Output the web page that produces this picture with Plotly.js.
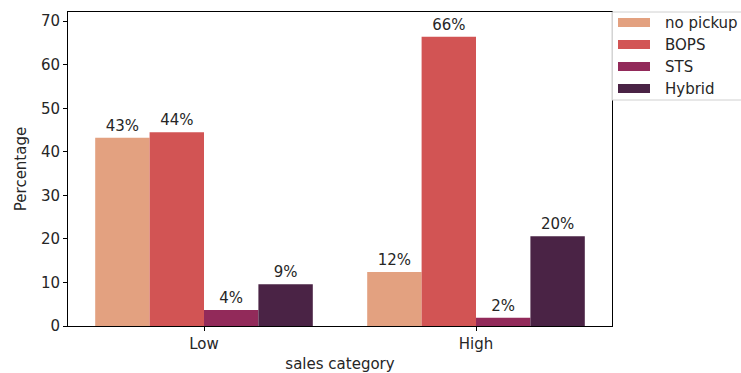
<!DOCTYPE html>
<html>
<head>
<meta charset="utf-8">
<script src="https://cdn.plot.ly/plotly-3.0.1.min.js"></script>
<style>html,body{margin:0;padding:0;background:#fff;}#chart{width:741px;height:373px;}</style>
</head>
<body>
<div id="chart"></div>
<script>
const categories = ["Low", "High"];
const seriesNames = ["no pickup", "BOPS", "STS", "Hybrid"];
const noPickup = [43.2, 12.4];
const bops = [44.5, 66.4];
const sts = [3.7, 1.9];
const hybrid = [9.6, 20.6];
const noPickupLabels = ["43%", "12%"];
const bopsLabels = ["44%", "66%"];
const stsLabels = ["4%", "2%"];
const hybridLabels = ["9%", "20%"];
const yTicks = [0, 10, 20, 30, 40, 50, 60, 70];
const colors = ["#e3a180", "#d25454", "#922a5a", "#4a2345"];

const values = [noPickup, bops, sts, hybrid];
const labels = [noPickupLabels, bopsLabels, stsLabels, hybridLabels];
const textColor = "#262626";
const fontFam = "DejaVu Sans, sans-serif";
const fs = 15;

const traces = seriesNames.map((n, i) => ({
  type: "bar",
  name: n,
  x: categories,
  y: values[i],
  text: labels[i],
  textposition: "outside",
  textfont: {family: fontFam, size: fs, color: textColor},
  cliponaxis: false,
  marker: {color: colors[i], line: {width: 0}},
  hoverinfo: "skip",
  showlegend: false
}));

// plot area in pixels: left 68, right 612, top 12, bottom 326
const L = 68, R = 612, T = 12, B = 326;
const px = v => (v - L) / (R - L);
const py = v => (B - v) / (B - T);

const shapes = [{
  type: "rect", xref: "paper", yref: "paper",
  x0: px(612), x1: px(760), y0: py(100), y1: py(12),
  line: {color: "#d0d0d0", width: 1}, fillcolor: "rgba(255,255,255,0.85)", layer: "above"
}];
const annotations = [];
seriesNames.forEach((n, i) => {
  const cy = 22.5 + i * 22;
  shapes.push({
    type: "rect", xref: "paper", yref: "paper",
    x0: px(618), x1: px(650), y0: py(cy + 4.5), y1: py(cy - 4.5),
    line: {width: 0}, fillcolor: colors[i], layer: "above"
  });
  annotations.push({
    xref: "paper", yref: "paper", x: px(663), y: py(cy),
    xanchor: "left", yanchor: "middle", showarrow: false,
    text: n, font: {family: fontFam, size: fs, color: textColor}
  });
});

const layout = {
  width: 741, height: 373,
  margin: {l: L, r: 741 - R, t: T, b: 373 - B},
  paper_bgcolor: "#fff", plot_bgcolor: "#fff",
  barmode: "group", bargap: 0.2, bargroupgap: 0,
  font: {family: fontFam, size: fs, color: textColor},
  showlegend: false,
  shapes: shapes,
  annotations: annotations,
  xaxis: {
    range: [-0.5, 1.5], showgrid: false, zeroline: false,
    showline: true, linecolor: "#000", linewidth: 1, mirror: true,
    ticks: "outside", ticklen: 4, tickcolor: "#000",
    tickfont: {family: fontFam, size: fs, color: textColor},
    automargin: false,
    title: {text: "sales category", font: {family: fontFam, size: fs, color: textColor}, standoff: 6}
  },
  yaxis: {
    range: [0, 72.1], showgrid: false, zeroline: false,
    showline: true, linecolor: "#000", linewidth: 1, mirror: true,
    ticks: "outside", ticklen: 4, tickcolor: "#000",
    tickvals: yTicks,
    tickfont: {family: fontFam, size: fs, color: textColor},
    automargin: false,
    title: {text: "Percentage", font: {family: fontFam, size: fs, color: textColor}, standoff: 10}
  }
};

Plotly.newPlot("chart", traces, layout, {displayModeBar: false, staticPlot: true});
</script>
</body>
</html>
